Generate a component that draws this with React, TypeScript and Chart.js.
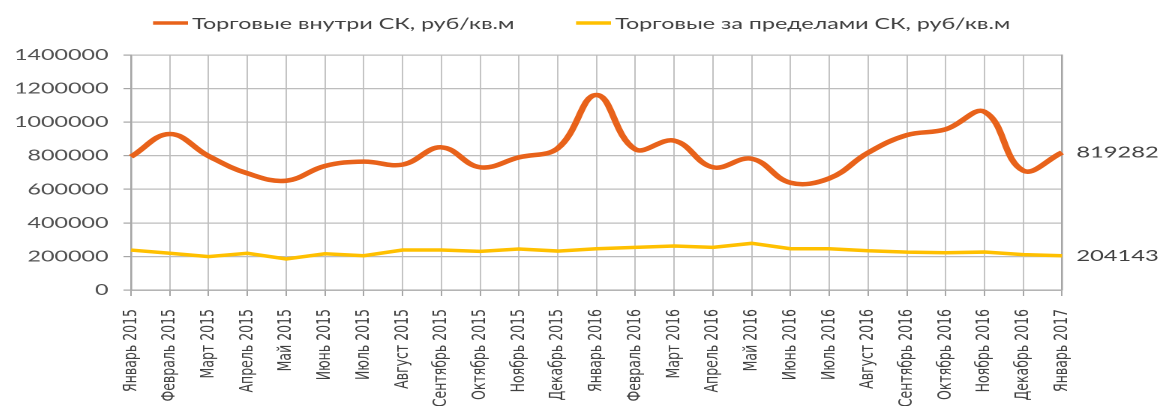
import React, { useEffect, useRef } from "react";
import { Chart, registerables } from "chart.js";

Chart.register(...registerables);

const categories = [
  "Январь 2015", "Февраль 2015", "Март 2015", "Апрель 2015", "Май 2015", "Июнь 2015",
  "Июль 2015", "Август 2015", "Сентябрь 2015", "Октябрь 2015", "Ноябрь 2015", "Декабрь 2015",
  "Январь 2016", "Февраль 2016", "Март 2016", "Апрель 2016", "Май 2016", "Июнь 2016",
  "Июль 2016", "Август 2016", "Сентябрь 2016", "Октябрь 2016", "Ноябрь 2016", "Декабрь 2016",
  "Январь 2017",
];

const insideValues = [
  794000, 929000, 798000, 695000, 651000, 739000, 765000, 747000, 850000, 731000, 790000, 844000,
  1162000, 838000, 890000, 731000, 782000, 639000, 665000, 818000, 923000, 957000, 1062000, 711000,
  819282,
];

const outsideValues = [
  238000, 219000, 199000, 219000, 185000, 216000, 204000, 238000, 238000, 230000, 244000, 232000,
  246000, 254000, 262000, 254000, 278000, 246000, 246000, 234000, 226000, 222000, 226000, 211000,
  204143,
];

const seriesNames = [
  "Торговые внутри СК, руб/кв.м",
  "Торговые за пределами СК, руб/кв.м",
];

const yTicks = [0, 200000, 400000, 600000, 800000, 1000000, 1200000, 1400000];

const STRETCH = 1.5;
const W = 773;
const H = 398;

const legendPlugin = {
  id: "manualLegend",
  afterDraw(chart: any, _args: any, opts: any) {
    const ctx = chart.ctx;
    ctx.save();
    chart.data.datasets.forEach((ds: any, i: number) => {
      const x = opts.starts[i];
      ctx.strokeStyle = ds.borderColor;
      ctx.lineWidth = 3.5;
      ctx.lineCap = "butt";
      ctx.beginPath();
      ctx.moveTo(x, opts.y);
      ctx.lineTo(x + opts.lineLen, opts.y);
      ctx.stroke();
      ctx.fillStyle = "#404040";
      ctx.font = "15.5px Lato";
      ctx.textBaseline = "middle";
      ctx.textAlign = "left";
      ctx.fillText(ds.label, x + opts.lineLen + opts.gap, opts.y + 1);
    });
    ctx.restore();
  },
};

const endLabelPlugin = {
  id: "endLabels",
  afterDatasetsDraw(chart: any, _args: any, opts: any) {
    const ctx = chart.ctx;
    ctx.save();
    ctx.font = "15.8px Lato";
    ctx.fillStyle = "#404040";
    ctx.textBaseline = "middle";
    ctx.textAlign = "left";
    chart.data.datasets.forEach((ds: any, i: number) => {
      const meta = chart.getDatasetMeta(i);
      const pt = meta.data[meta.data.length - 1];
      const v = ds.data[ds.data.length - 1];
      ctx.fillText(String(v), chart.chartArea.right + opts.gap, pt.y);
    });
    ctx.restore();
  },
};

export default function App() {
  const ref = useRef<HTMLCanvasElement>(null);

  useEffect(() => {
    if (!ref.current) return;
    const chart = new Chart(ref.current, {
      type: "line",
      data: {
        labels: categories,
        datasets: [
          {
            label: seriesNames[0],
            data: insideValues,
            borderColor: "#E8621A",
            backgroundColor: "#E8621A",
            borderWidth: 4.5,
            tension: 0.4,
            pointRadius: 0,
            fill: false,
          },
          {
            label: seriesNames[1],
            data: outsideValues,
            borderColor: "#FFC000",
            backgroundColor: "#FFC000",
            borderWidth: 3.5,
            tension: 0,
            pointRadius: 0,
            fill: false,
          },
        ],
      },
      options: {
        responsive: false,
        devicePixelRatio: 2,
        animation: false,
        layout: { padding: { top: 47, left: 0, right: W - 702.7, bottom: 0 } },
        plugins: {
          legend: { display: false },
          tooltip: { enabled: false },
          manualLegend: { starts: [96.7, 378.7], y: 15, lineLen: 23.3, gap: 2.7 },
          endLabels: { gap: 9.5 },
        } as any,
        scales: {
          x: {
            grid: {
              color: "#C4C4C4",
              lineWidth: 1,
              borderDash: [3, 3],
              tickBorderDash: [],
              tickColor: "#A6A6A6",
              tickLength: 6,
              tickWidth: 1,
            } as any,
            border: { color: "#A6A6A6", width: 1.3 },
            ticks: {
              autoSkip: false,
              maxRotation: 90,
              minRotation: 90,
              padding: 13,
              color: "#404040",
              font: { family: "DejaVu Sans", size: 12.5 },
            },
            afterFit(scale: any) {
              scale.height = 116;
            },
          },
          y: {
            min: 0,
            max: 1400000,
            afterBuildTicks(scale: any) {
              scale.ticks = yTicks.map((v) => ({ value: v }));
            },
            ticks: {
              padding: 10,
              color: "#505050",
              font: { family: "Lato", size: 15.5 },
              callback: (v: any) => String(v),
            },
            grid: {
              color: "#BDBDBD",
              lineWidth: 1.2,
              tickLength: 5,
              tickColor: "#A6A6A6",
            },
            border: { color: "#A6A6A6", width: 1.3 },
            afterFit(scale: any) {
              scale.width = 82;
            },
          },
          yRight: {
            position: "right",
            min: 0,
            max: 1400000,
            ticks: { display: false },
            grid: { drawOnChartArea: false, drawTicks: false },
            border: { color: "#A6A6A6", width: 1.3 },
            afterFit(scale: any) {
              scale.width = 0;
            },
          },
        },
      },
      plugins: [legendPlugin, endLabelPlugin],
    });
    return () => chart.destroy();
  }, []);

  return (
    <div
      style={{
        position: "relative",
        width: W,
        height: H,
        transform: `scaleX(${STRETCH})`,
        transformOrigin: "0 0",
      }}
    >
      <canvas ref={ref} width={W} height={H} style={{ display: "block" }} />
    </div>
  );
}
